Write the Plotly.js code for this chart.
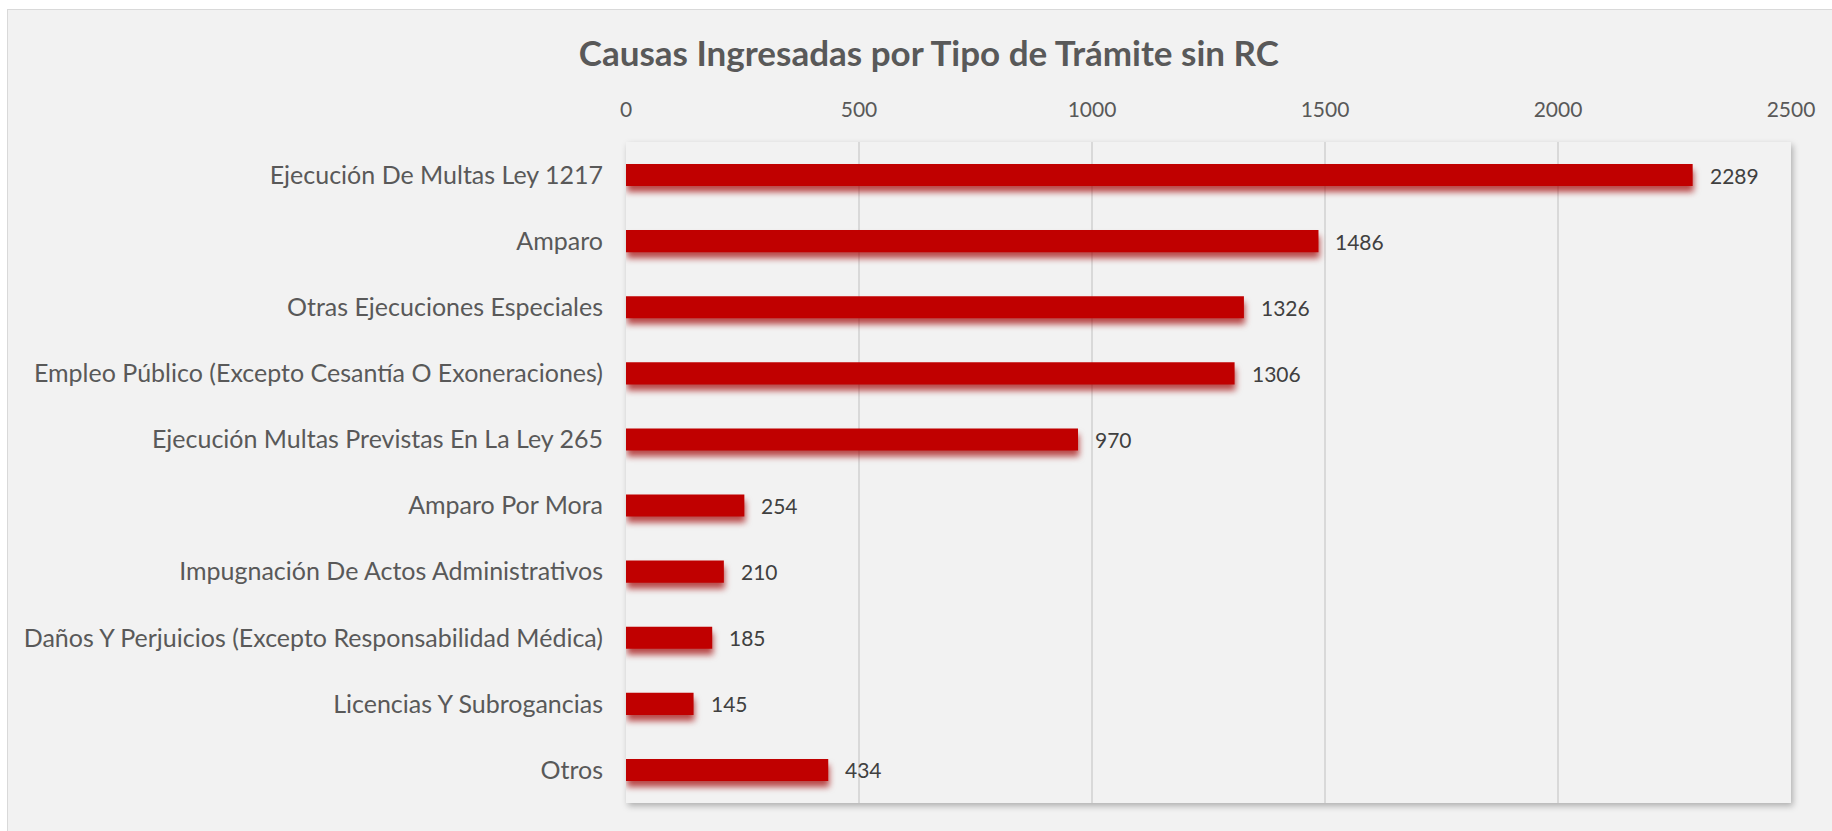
<!DOCTYPE html>
<html>
<head>
<meta charset="utf-8">
<script src="https://cdn.plot.ly/plotly-3.0.1.min.js"></script>
<style>
  html, body { margin: 0; padding: 0; background: #ffffff; overflow: hidden; width: 1832px; height: 831px; }
  #frame { position: absolute; left: 7px; top: 9px; width: 1840px; height: 840px; background: #f2f2f2; border: 1.5px solid #d9d9d9; }
  #chart { position: absolute; left: 0; top: 0; width: 1832px; height: 831px; }
  #chart rect.bg { filter: drop-shadow(2px 3px 3px rgba(0,0,0,0.28)); }
  #chart .trace.bars .point path { filter: drop-shadow(1px 6px 3px rgba(160,0,0,0.7)); }
</style>
</head>
<body>
<div id="frame"></div>
<div id="chart"></div>
<script>
const categories = [
  "Ejecución De Multas Ley 1217",
  "Amparo",
  "Otras Ejecuciones Especiales",
  "Empleo Público (Excepto Cesantía O Exoneraciones)",
  "Ejecución Multas Previstas En La Ley 265",
  "Amparo Por Mora",
  "Impugnación De Actos Administrativos",
  "Daños Y Perjuicios (Excepto Responsabilidad Médica)",
  "Licencias Y Subrogancias",
  "Otros"
];
const values = [2289, 1486, 1326, 1306, 970, 254, 210, 185, 145, 434];
const xTicks = [0, 500, 1000, 1500, 2000, 2500];
const titleText = "Causas Ingresadas por Tipo de Trámite sin RC";

const FONT = "Lato, 'Open Sans', sans-serif";

const trace = {
  type: "bar",
  orientation: "h",
  x: values,
  y: categories,
  marker: { color: "#c00000" },
  hoverinfo: "x+y"
};

const annotations = values.map((v, i) => ({
  x: v, y: categories[i], xref: "x", yref: "y",
  text: String(v), showarrow: false,
  xanchor: "left", yanchor: "middle", xshift: 15,
  font: { family: FONT, size: 21, color: "#404040" }
}));

const layout = {
  width: 1832, height: 831,
  paper_bgcolor: "rgba(0,0,0,0)",
  plot_bgcolor: "#f2f2f2",
  margin: { l: 626, r: 41, t: 142, b: 28, pad: 0 },
  title: {
    text: "<b>" + titleText + "</b>",
    x: 0.507, xanchor: "center",
    y: 1 - 54 / 831, yanchor: "middle",
    font: { family: FONT, size: 35, color: "#595959" }
  },
  bargap: 0.665,
  showlegend: false,
  xaxis: {
    side: "top",
    range: [0, 2500],
    tickvals: xTicks,
    ticktext: xTicks.map(String),
    showgrid: true, gridcolor: "#d9d9d9", gridwidth: 1.3,
    zeroline: false, showline: false, ticks: "",
    ticklabelstandoff: 20,
    tickfont: { family: FONT, size: 21, color: "#595959" },
    fixedrange: true
  },
  yaxis: {
    type: "category",
    categoryorder: "array", categoryarray: categories,
    autorange: "reversed",
    showgrid: false, zeroline: false, showline: false, ticks: "",
    ticklabelstandoff: 22,
    tickfont: { family: FONT, size: 25, color: "#595959" },
    fixedrange: true
  },
  annotations: annotations
};

Plotly.newPlot("chart", [trace], layout, { displayModeBar: false, staticPlot: true });
</script>
</body>
</html>
